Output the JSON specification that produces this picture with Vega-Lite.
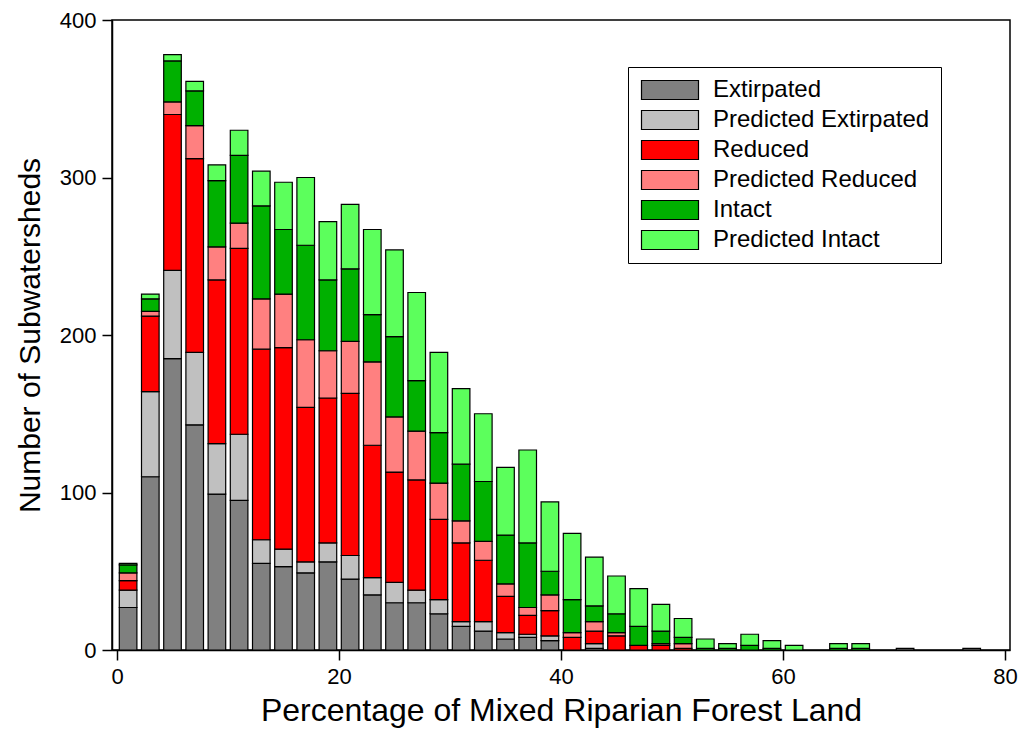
{
  "$schema": "https://vega.github.io/schema/vega-lite/v6.json",
  "width": 898,
  "height": 630,
  "autosize": {"type": "none"},
  "padding": {"left": 112, "top": 20, "right": 19, "bottom": 101},
  "background": "white",
  "config": {
    "view": {"stroke": "black", "strokeWidth": 1.5},
    "font": "Liberation Sans",
    "axis": {
      "grid": false,
      "domainColor": "black",
      "domainWidth": 1.5,
      "tickColor": "black",
      "tickWidth": 1.5,
      "tickSize": 10,
      "labelColor": "black",
      "labelFont": "Liberation Sans",
      "labelFontSize": 22,
      "titleFont": "Liberation Sans",
      "titleColor": "black",
      "titleFontWeight": "normal"
    }
  },
  "datasets": {
    "stackOrder": [
      {"status": "Extirpated", "rank": 1},
      {"status": "Predicted Extirpated", "rank": 2},
      {"status": "Reduced", "rank": 3},
      {"status": "Predicted Reduced", "rank": 4},
      {"status": "Intact", "rank": 5},
      {"status": "Predicted Intact", "rank": 6}
    ],
    "bins": [
      {"pct": 1, "Extirpated": 27, "Predicted Extirpated": 11, "Reduced": 6, "Predicted Reduced": 5, "Intact": 5, "Predicted Intact": 1},
      {"pct": 3, "Extirpated": 110, "Predicted Extirpated": 54, "Reduced": 48, "Predicted Reduced": 3, "Intact": 8, "Predicted Intact": 3},
      {"pct": 5, "Extirpated": 185, "Predicted Extirpated": 56, "Reduced": 99, "Predicted Reduced": 8, "Intact": 26, "Predicted Intact": 4},
      {"pct": 7, "Extirpated": 143, "Predicted Extirpated": 46, "Reduced": 123, "Predicted Reduced": 21, "Intact": 22, "Predicted Intact": 6},
      {"pct": 9, "Extirpated": 99, "Predicted Extirpated": 32, "Reduced": 104, "Predicted Reduced": 21, "Intact": 42, "Predicted Intact": 10},
      {"pct": 11, "Extirpated": 95, "Predicted Extirpated": 42, "Reduced": 118, "Predicted Reduced": 16, "Intact": 43, "Predicted Intact": 16},
      {"pct": 13, "Extirpated": 55, "Predicted Extirpated": 15, "Reduced": 121, "Predicted Reduced": 32, "Intact": 59, "Predicted Intact": 22},
      {"pct": 15, "Extirpated": 53, "Predicted Extirpated": 11, "Reduced": 128, "Predicted Reduced": 34, "Intact": 41, "Predicted Intact": 30},
      {"pct": 17, "Extirpated": 49, "Predicted Extirpated": 7, "Reduced": 98, "Predicted Reduced": 43, "Intact": 60, "Predicted Intact": 43},
      {"pct": 19, "Extirpated": 56, "Predicted Extirpated": 12, "Reduced": 92, "Predicted Reduced": 30, "Intact": 45, "Predicted Intact": 37},
      {"pct": 21, "Extirpated": 45, "Predicted Extirpated": 15, "Reduced": 103, "Predicted Reduced": 33, "Intact": 46, "Predicted Intact": 41},
      {"pct": 23, "Extirpated": 35, "Predicted Extirpated": 11, "Reduced": 84, "Predicted Reduced": 53, "Intact": 30, "Predicted Intact": 54},
      {"pct": 25, "Extirpated": 30, "Predicted Extirpated": 13, "Reduced": 70, "Predicted Reduced": 35, "Intact": 51, "Predicted Intact": 55},
      {"pct": 27, "Extirpated": 30, "Predicted Extirpated": 8, "Reduced": 70, "Predicted Reduced": 31, "Intact": 32, "Predicted Intact": 56},
      {"pct": 29, "Extirpated": 23, "Predicted Extirpated": 9, "Reduced": 51, "Predicted Reduced": 23, "Intact": 32, "Predicted Intact": 51},
      {"pct": 31, "Extirpated": 15, "Predicted Extirpated": 3, "Reduced": 50, "Predicted Reduced": 14, "Intact": 36, "Predicted Intact": 48},
      {"pct": 33, "Extirpated": 12, "Predicted Extirpated": 6, "Reduced": 39, "Predicted Reduced": 12, "Intact": 38, "Predicted Intact": 43},
      {"pct": 35, "Extirpated": 7, "Predicted Extirpated": 4, "Reduced": 23, "Predicted Reduced": 8, "Intact": 31, "Predicted Intact": 43},
      {"pct": 37, "Extirpated": 8, "Predicted Extirpated": 2, "Reduced": 12, "Predicted Reduced": 5, "Intact": 41, "Predicted Intact": 59},
      {"pct": 39, "Extirpated": 6, "Predicted Extirpated": 3, "Reduced": 16, "Predicted Reduced": 10, "Intact": 15, "Predicted Intact": 44},
      {"pct": 41, "Extirpated": 0, "Predicted Extirpated": 0, "Reduced": 8, "Predicted Reduced": 3, "Intact": 21, "Predicted Intact": 42},
      {"pct": 43, "Extirpated": 1, "Predicted Extirpated": 3, "Reduced": 8, "Predicted Reduced": 6, "Intact": 10, "Predicted Intact": 31},
      {"pct": 45, "Extirpated": 0, "Predicted Extirpated": 0, "Reduced": 9, "Predicted Reduced": 2, "Intact": 12, "Predicted Intact": 24},
      {"pct": 47, "Extirpated": 0, "Predicted Extirpated": 0, "Reduced": 3, "Predicted Reduced": 0, "Intact": 12, "Predicted Intact": 24},
      {"pct": 49, "Extirpated": 0, "Predicted Extirpated": 0, "Reduced": 3, "Predicted Reduced": 1, "Intact": 8, "Predicted Intact": 17},
      {"pct": 51, "Extirpated": 0, "Predicted Extirpated": 0, "Reduced": 1, "Predicted Reduced": 3, "Intact": 4, "Predicted Intact": 12},
      {"pct": 53, "Extirpated": 0, "Predicted Extirpated": 0, "Reduced": 0, "Predicted Reduced": 0, "Intact": 1, "Predicted Intact": 6},
      {"pct": 55, "Extirpated": 0, "Predicted Extirpated": 0, "Reduced": 0, "Predicted Reduced": 0, "Intact": 1, "Predicted Intact": 3},
      {"pct": 57, "Extirpated": 0, "Predicted Extirpated": 0, "Reduced": 0, "Predicted Reduced": 0, "Intact": 3, "Predicted Intact": 7},
      {"pct": 59, "Extirpated": 0, "Predicted Extirpated": 0, "Reduced": 0, "Predicted Reduced": 0, "Intact": 1, "Predicted Intact": 5},
      {"pct": 61, "Extirpated": 0, "Predicted Extirpated": 0, "Reduced": 0, "Predicted Reduced": 0, "Intact": 0, "Predicted Intact": 3},
      {"pct": 65, "Extirpated": 0, "Predicted Extirpated": 0, "Reduced": 0, "Predicted Reduced": 0, "Intact": 1, "Predicted Intact": 3},
      {"pct": 67, "Extirpated": 0, "Predicted Extirpated": 0, "Reduced": 0, "Predicted Reduced": 0, "Intact": 1, "Predicted Intact": 3},
      {"pct": 71, "Extirpated": 1, "Predicted Extirpated": 0, "Reduced": 0, "Predicted Reduced": 0, "Intact": 0, "Predicted Intact": 0},
      {"pct": 77, "Extirpated": 1, "Predicted Extirpated": 0, "Reduced": 0, "Predicted Reduced": 0, "Intact": 0, "Predicted Intact": 0}
    ]
  },
  "data": {"name": "bins"},
  "transform": [
    {"fold": ["Extirpated", "Predicted Extirpated", "Reduced", "Predicted Reduced", "Intact", "Predicted Intact"], "as": ["status", "n"]},
    {"filter": "datum.n > 0"},
    {"lookup": "status", "from": {"data": {"name": "stackOrder"}, "key": "status", "fields": ["rank"]}}
  ],
  "mark": {"type": "bar", "width": 17.6, "stroke": "black", "strokeWidth": 1.2},
  "encoding": {
    "x": {
      "field": "pct",
      "type": "quantitative",
      "scale": {"domain": [0, 80], "nice": false},
      "axis": {"values": [0, 20, 40, 60, 80], "title": "Percentage of Mixed Riparian Forest Land", "titleFontSize": 32, "labelPadding": 6, "titlePadding": 8}
    },
    "y": {
      "field": "n",
      "type": "quantitative",
      "stack": "zero",
      "scale": {"domain": [0, 400], "nice": false},
      "axis": {"values": [0, 100, 200, 300, 400], "title": "Number of Subwatersheds", "titleFontSize": 30, "labelPadding": 6, "titlePadding": 14}
    },
    "order": {"field": "rank", "type": "quantitative", "sort": "ascending"},
    "color": {
      "field": "status",
      "type": "nominal",
      "sort": ["Extirpated", "Predicted Extirpated", "Reduced", "Predicted Reduced", "Intact", "Predicted Intact"],
      "scale": {
        "domain": ["Extirpated", "Predicted Extirpated", "Reduced", "Predicted Reduced", "Intact", "Predicted Intact"],
        "range": ["#808080", "#c0c0c0", "#ff0000", "#ff8080", "#00b000", "#5cff5c"]
      },
      "legend": {
        "orient": "none",
        "legendX": 516,
        "legendY": 47,
        "title": null,
        "symbolType": "M-1,-1L5,-1L5,1L-1,1Z",
        "symbolSize": 361,
        "symbolStrokeColor": "black",
        "symbolStrokeWidth": 1.2,
        "symbolOpacity": 1,
        "labelFont": "Liberation Sans",
        "labelFontSize": 24,
        "labelColor": "black",
        "labelLimit": 400,
        "labelOffset": 50,
        "padding": 11,
        "rowPadding": 6,
        "strokeColor": "black",
        "fillColor": "white"
      }
    }
  }
}
